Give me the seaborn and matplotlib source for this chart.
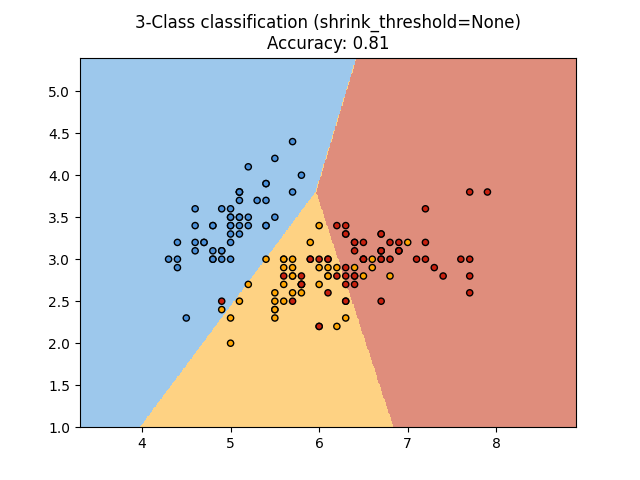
import numpy as np
import matplotlib
matplotlib.use("Agg")
import matplotlib.pyplot as plt
import seaborn as sns
from matplotlib.colors import ListedColormap

setosa = [(5.1,3.5),(4.9,3.0),(4.7,3.2),(4.6,3.1),(5.0,3.6),(5.4,3.9),(4.6,3.4),(5.0,3.4),(4.4,2.9),(4.9,3.1),
(5.4,3.7),(4.8,3.4),(4.8,3.0),(4.3,3.0),(5.8,4.0),(5.7,4.4),(5.4,3.9),(5.1,3.5),(5.7,3.8),(5.1,3.8),
(5.4,3.4),(5.1,3.7),(4.6,3.6),(5.1,3.3),(4.8,3.4),(5.0,3.0),(5.0,3.4),(5.2,3.5),(5.2,3.4),(4.7,3.2),
(4.8,3.1),(5.4,3.4),(5.2,4.1),(5.5,4.2),(4.9,3.1),(5.0,3.2),(5.5,3.5),(4.9,3.6),(4.4,3.0),(5.1,3.4),
(5.0,3.5),(4.5,2.3),(4.4,3.2),(5.0,3.5),(5.1,3.8),(4.8,3.0),(5.1,3.8),(4.6,3.2),(5.3,3.7),(5.0,3.3)]
versicolor = [(7.0,3.2),(6.4,3.2),(6.9,3.1),(5.5,2.3),(6.5,2.8),(5.7,2.8),(6.3,3.3),(4.9,2.4),(6.6,2.9),(5.2,2.7),
(5.0,2.0),(5.9,3.0),(6.0,2.2),(6.1,2.9),(5.6,2.9),(6.7,3.1),(5.6,3.0),(5.8,2.7),(6.2,2.2),(5.6,2.5),
(5.9,3.2),(6.1,2.8),(6.3,2.5),(6.1,2.8),(6.4,2.9),(6.6,3.0),(6.8,2.8),(6.7,3.0),(6.0,2.9),(5.7,2.6),
(5.5,2.4),(5.5,2.4),(5.8,2.7),(6.0,2.7),(5.4,3.0),(6.0,3.4),(6.7,3.1),(6.3,2.3),(5.6,3.0),(5.5,2.5),
(5.5,2.6),(6.1,3.0),(5.8,2.6),(5.0,2.3),(5.6,2.7),(5.7,3.0),(5.7,2.9),(6.2,2.9),(5.1,2.5),(5.7,2.8)]
virginica = [(6.3,3.3),(5.8,2.7),(7.1,3.0),(6.3,2.9),(6.5,3.0),(7.6,3.0),(4.9,2.5),(7.3,2.9),(6.7,2.5),(7.2,3.6),
(6.5,3.2),(6.4,2.7),(6.8,3.0),(5.7,2.5),(5.8,2.8),(6.4,3.2),(6.5,3.0),(7.7,3.8),(7.7,2.6),(6.0,2.2),
(6.9,3.2),(5.6,2.8),(7.7,2.8),(6.3,2.7),(6.7,3.3),(7.2,3.2),(6.2,2.8),(6.1,3.0),(6.4,2.8),(7.2,3.0),
(7.4,2.8),(7.9,3.8),(6.4,2.8),(6.3,2.8),(6.1,2.6),(7.7,3.0),(6.3,3.4),(6.4,3.1),(6.0,3.0),(6.9,3.1),
(6.7,3.1),(6.9,3.1),(5.8,2.7),(6.8,3.2),(6.7,3.3),(6.7,3.0),(6.3,2.5),(6.5,3.0),(6.2,3.4),(5.9,3.0)]

classes = [setosa, versicolor, virginica]
bg_colors = ["#9dc8ec", "#fed283", "#df8d7c"]
pt_colors = ["#4a90d9", "#ffa500", "#c8200e"]

X = np.array(setosa + versicolor + virginica)
y = np.repeat([0, 1, 2], 50)
cents = np.array([np.mean(c, axis=0) for c in classes])

x_min, x_max = X[:, 0].min() - 1, X[:, 0].max() + 1
y_min, y_max = X[:, 1].min() - 1, X[:, 1].max() + 1
xx, yy = np.meshgrid(np.linspace(x_min, x_max, 400), np.linspace(y_min, y_max, 400))
d = ((np.stack([xx, yy], -1)[..., None, :] - cents) ** 2).sum(-1)
Z = d.argmin(-1)
pred = ((X[:, None, :] - cents) ** 2).sum(-1).argmin(1)
acc = (pred == y).mean()

fig, ax = plt.subplots(figsize=(6.4, 4.8), dpi=100)
ax.contourf(xx, yy, Z, levels=[-0.5, 0.5, 1.5, 2.5], colors=bg_colors)
sns.scatterplot(x=X[:, 0], y=X[:, 1], hue=y, palette=pt_colors, edgecolor="k",
                linewidth=1, s=20, legend=False, ax=ax)
ax.set_xlim(x_min, x_max)
ax.set_ylim(y_min, y_max)
ax.set_title(f"3-Class classification (shrink_threshold=None)\nAccuracy: {acc:.2f}")
fig.savefig("out.png")
